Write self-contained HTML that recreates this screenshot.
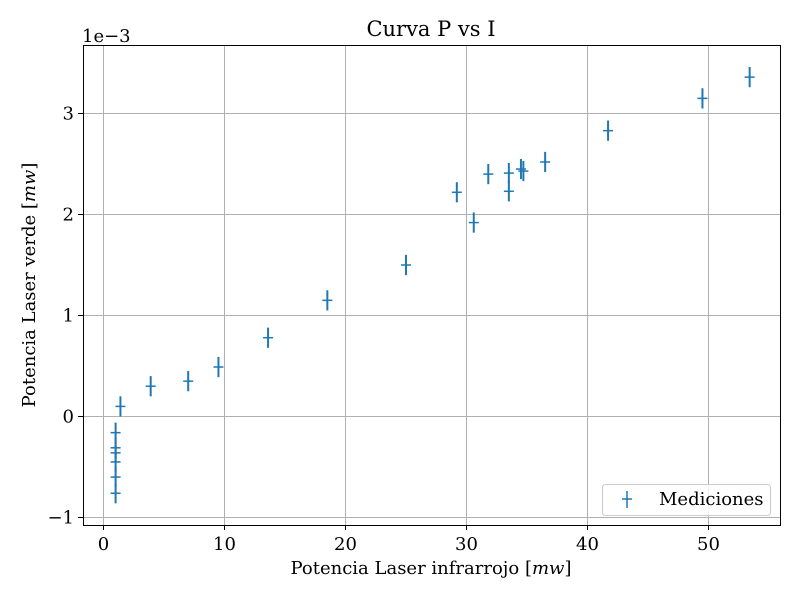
<!DOCTYPE html>
<html><head><meta charset="utf-8"><style>
body{margin:0;background:#fff}
svg text{font-family:"DejaVu Serif","Liberation Serif",serif;fill:#000}
</style></head><body>
<svg id="chart" width="800" height="600" xmlns="http://www.w3.org/2000/svg">
<rect width="800" height="600" fill="#fff"/>
<g id="grid"></g>
<g id="axes"></g>
<g id="points"></g>
<rect x="83.5" y="45.5" width="697" height="480" fill="none" stroke="#000" stroke-width="1"/>
<text x="431" y="36" font-size="21" text-anchor="middle">Curva P vs I</text>
<text x="82" y="42" font-size="18">1e−3</text>
<text x="431" y="574" font-size="18" text-anchor="middle">Potencia Laser infrarrojo [<tspan font-style="italic">mw</tspan>]</text>
<text transform="translate(35,285) rotate(-90)" font-size="18" text-anchor="middle">Potencia Laser verde [<tspan font-style="italic">mw</tspan>]</text>
<g>
<rect x="602.5" y="484.5" width="168" height="31" rx="3" fill="#fff" fill-opacity="0.8" stroke="#ccc"/>
<line x1="627" y1="491" x2="627" y2="508" stroke="#1f77b4" stroke-width="1.5"/>
<line x1="622" y1="499" x2="632" y2="499" stroke="#1f77b4" stroke-width="1.5"/>
<text x="659" y="505" font-size="18">Mediciones</text>
</g>
</svg>
<script>
const xVals=[1.0,1.0,1.0,1.0,1.0,1.0,1.4,3.9,7.0,9.5,13.6,18.5,25.0,29.2,30.6,31.8,33.5,33.5,34.5,34.7,36.5,41.7,49.5,53.4];
const yVals=[-0.16,-0.31,-0.36,-0.45,-0.60,-0.76,0.10,0.30,0.35,0.49,0.78,1.15,1.50,2.22,1.92,2.40,2.41,2.23,2.45,2.43,2.52,2.83,3.15,3.36];
const yErr=[0.1,0.1,0.1,0.1,0.1,0.1,0.1,0.1,0.1,0.1,0.1,0.1,0.1,0.1,0.1,0.1,0.1,0.1,0.1,0.1,0.1,0.1,0.1,0.1];
const xTicks=[0,10,20,30,40,50];
const yTicks=[-1,0,1,2,3];
const X=v=>103.5+v*12.1;
const Y=v=>416.5-v*101;
const NS="http://www.w3.org/2000/svg";
function mk(parent,tag,attrs){const e=document.createElementNS(NS,tag);for(const k in attrs)e.setAttribute(k,attrs[k]);parent.appendChild(e);return e;}
const grid=document.getElementById('grid'),axes=document.getElementById('axes'),pts=document.getElementById('points');
xTicks.forEach(t=>{
 const px=Math.round(X(t)-0.5)+0.5;
 const g=mk(grid,'line',{x1:px,x2:px,y1:45,y2:525,stroke:'#b0b0b0','stroke-width':1});
 
 
 mk(axes,'line',{x1:px,x2:px,y1:525,y2:530,stroke:'#000'});
 const tx=mk(axes,'text',{x:X(t),y:550,'font-size':18,'text-anchor':'middle'});
 tx.textContent=t;
 
 
});
yTicks.forEach(t=>{
 const py=Math.round(Y(t)-0.5)+0.5;
 const g=mk(grid,'line',{x1:83,x2:780,y1:py,y2:py,stroke:'#b0b0b0','stroke-width':1});
 
 
 mk(axes,'line',{x1:78,x2:83,y1:py,y2:py,stroke:'#000'});
 const tx=mk(axes,'text',{x:74,y:Y(t)+6,'font-size':18,'text-anchor':'end'});
 tx.textContent=t<0?'−'+(-t):t;
 
 
});
xVals.forEach((xv,i)=>{
 const g=mk(pts,'g',{});
 
 
 mk(g,'line',{x1:X(xv),x2:X(xv),y1:Y(yVals[i]+yErr[i]),y2:Y(yVals[i]-yErr[i]),stroke:'#1f77b4','stroke-width':2});
 mk(g,'line',{x1:X(xv)-5,x2:X(xv)+5,y1:Y(yVals[i]),y2:Y(yVals[i]),stroke:'#1f77b4','stroke-width':1.5});
});
</script>
</body></html>
